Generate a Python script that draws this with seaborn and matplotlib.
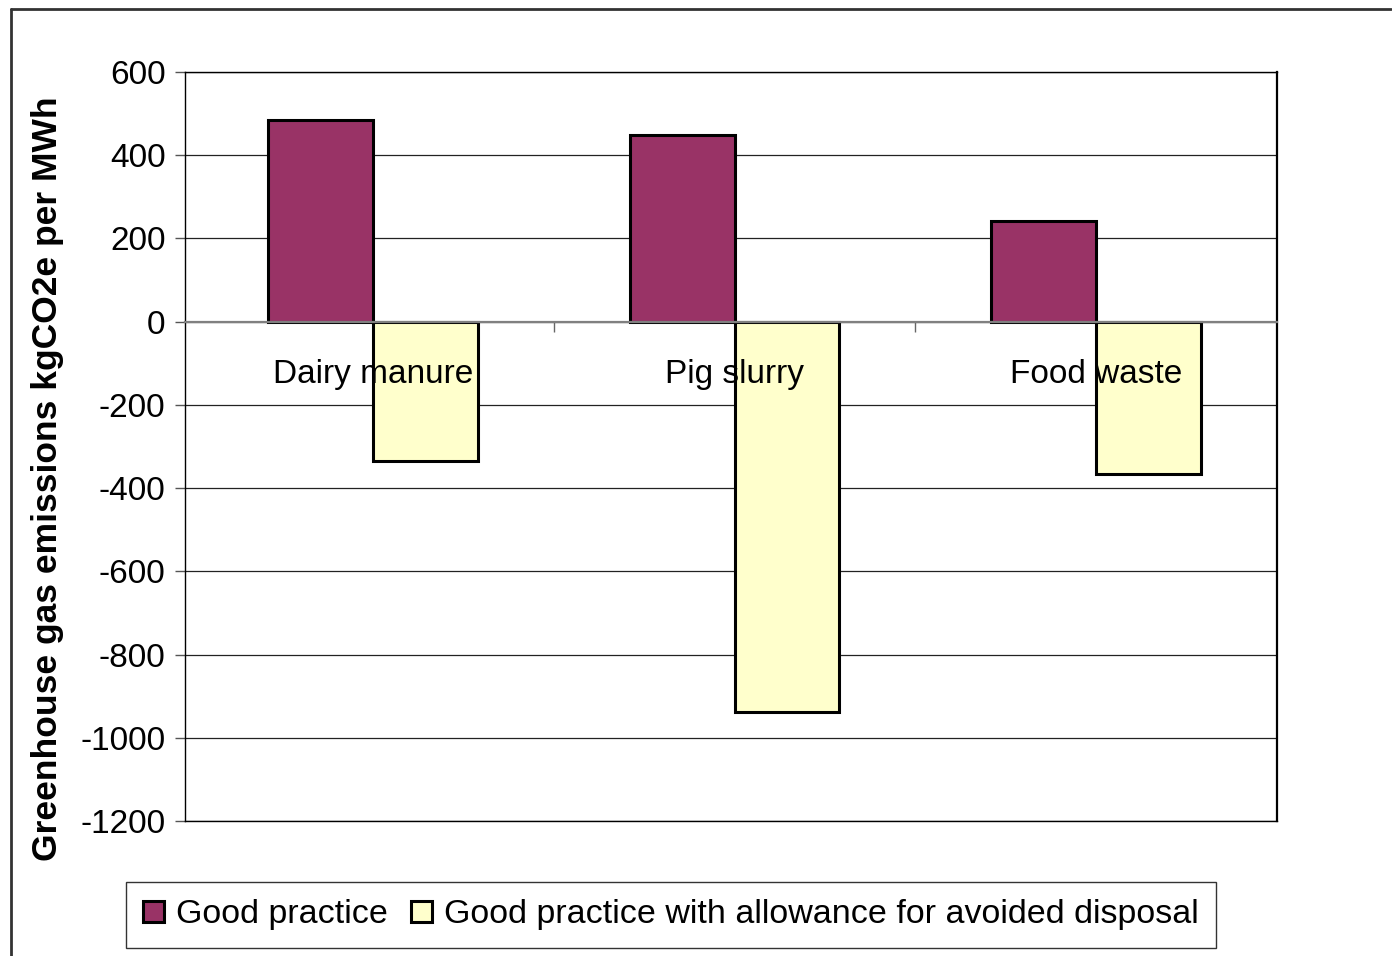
import numpy as np
import pandas as pd
import matplotlib.pyplot as plt
from matplotlib.lines import Line2D
import seaborn as sns

# data
categories = ["Dairy manure", "Pig slurry", "Food waste"]
series = ["Good practice", "Good practice with allowance for avoided disposal"]
good_practice = [485, 449, 243]
avoided_disposal = [-336, -937, -365]
colors = ["#993366", "#FFFFCC"]
y_ticks = list(range(-1200, 601, 200))

df = pd.DataFrame({
    "category": categories * 2,
    "series": [series[0]] * 3 + [series[1]] * 3,
    "value": good_practice + avoided_disposal,
})

sns.set_style("white")
plt.rcParams["font.family"] = ["Liberation Sans", "DejaVu Sans"]
plt.rcParams["axes.unicode_minus"] = False
plt.rcParams["text.color"] = "black"
plt.rcParams["xtick.color"] = "black"
plt.rcParams["ytick.color"] = "black"
plt.rcParams["axes.labelcolor"] = "black"

fig = plt.figure(figsize=(13.92, 9.56), dpi=100)
ax = fig.add_axes([185 / 1392, 1 - 821 / 956, (1277 - 185) / 1392, (821 - 72) / 956])

sns.barplot(data=df, x="category", y="value", hue="series", palette=colors,
            width=0.58, edgecolor="black", linewidth=2.2, saturation=1,
            dodge=True, ax=ax, zorder=3)

ax.set_xlim(-0.52, 2.5)
ax.set_ylim(-1200, 600)
ax.set_yticks(y_ticks)
ax.tick_params(axis="y", labelsize=24, length=7, width=1, color="#555555",
               direction="out", left=True, pad=7)
ax.yaxis.grid(True, color="#222222", linewidth=0.9, zorder=0)
ax.set_axisbelow(True)
ax.set_xticks([])
ax.set_xlabel("")
ax.set_ylabel("Greenhouse gas emissions kgCO2e per MWh", fontsize=25.5,
              fontweight="bold")
ax.yaxis.set_label_coords(-0.111, 0.457)
for s in ax.spines.values():
    s.set_visible(True)
    s.set_color("black")
    s.set_linewidth(1)
ax.spines["right"].set_linewidth(1.6)

# zero line carrying the category labels
sec = ax.secondary_xaxis(0, transform=ax.transData)
sec.set_xticks(range(len(categories)))
sec.set_xticklabels(categories)
sec.set_xticks(np.arange(1, len(categories)) - 0.5, minor=True)
sec.tick_params(axis="x", which="major", length=0, labelsize=24, pad=27)
sec.tick_params(axis="x", which="minor", length=7, width=1, color="#666666",
                direction="out")
sec.spines["bottom"].set_color("#808080")
sec.spines["bottom"].set_linewidth(1.6)
sec.set_zorder(5)

handles, labels = ax.get_legend_handles_labels()
ax.get_legend().remove()
leg = fig.legend(handles, labels, loc="center", ncol=2,
                 bbox_to_anchor=(671 / 1392, 1 - 915 / 956), fontsize=24.5,
                 frameon=True, fancybox=False, edgecolor="black",
                 handlelength=0.6, handleheight=0.6, handletextpad=0.35,
                 columnspacing=0.7, borderpad=0.5, borderaxespad=0)
leg.get_frame().set_linewidth(1)

# outer chart border
fig.add_artist(Line2D([11 / 1392, 11 / 1392], [0, 1 - 9 / 956], color="#333333", lw=2))
fig.add_artist(Line2D([11 / 1392, 1391 / 1392], [1 - 9 / 956, 1 - 9 / 956], color="#333333", lw=2))

fig.savefig("out.png", dpi=100)
